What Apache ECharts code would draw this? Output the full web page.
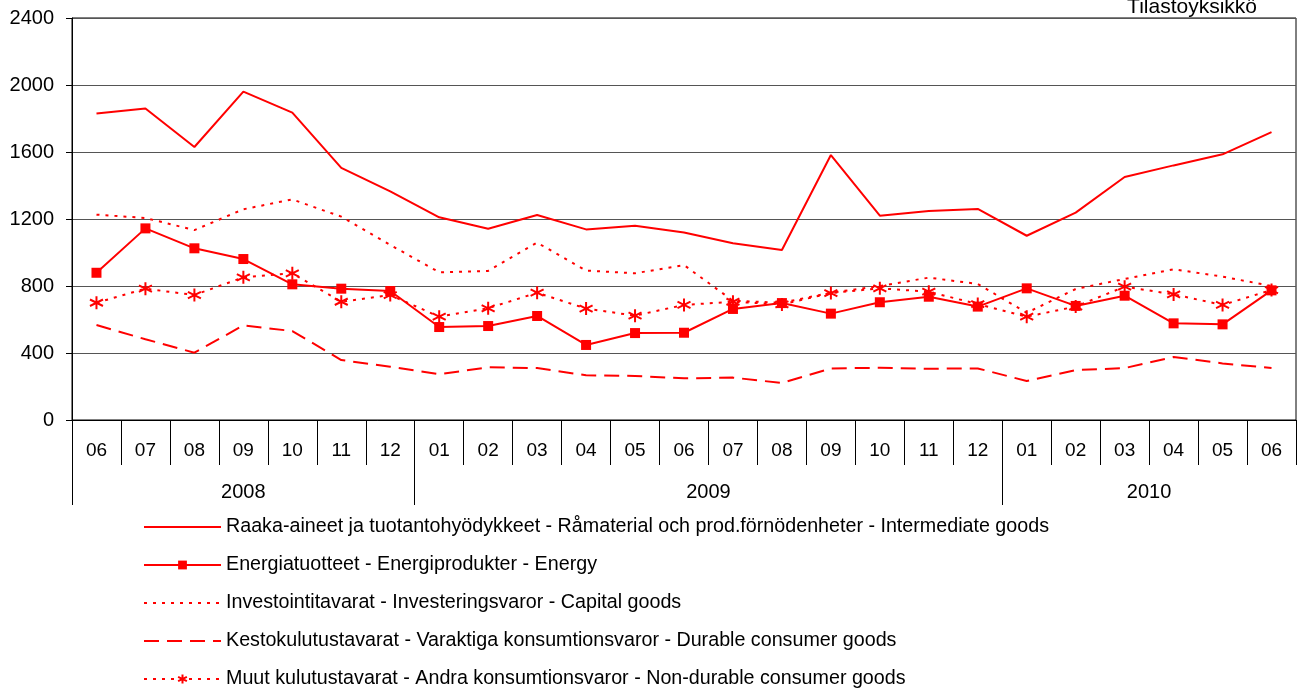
<!DOCTYPE html>
<html>
<head>
    <meta charset="utf-8"/>
    <title>Tilastoyksikkö</title>
    <script src="https://cdn.jsdelivr.net/npm/echarts@6/dist/echarts.min.js"></script>
    <style>
        html, body {margin: 0; padding: 0; background: #fff;}
        #main {width: 1298px; height: 689px;}
    </style>
</head>
<body>
<div id="main"></div>
<script>
    // kuukaudet 06/2008 - 06/2010
    let months = ['06','07','08','09','10','11','12',
        '01','02','03','04','05','06','07','08','09','10','11','12',
        '01','02','03','04','05','06'];
    let years = ['2008','2009','2010'];
    let yearCounts = [7, 12, 6];

    let raaka = [1830,1860,1630,1960,1835,1505,1365,1210,1142,1224,1138,1160,1120,1055,1015,1582,1220,1248,1260,1100,1238,1451,1520,1586,1719];
    let energia = [879,1144,1025,961,810,784,770,555,561,621,448,519,521,663,698,635,703,736,677,786,681,742,577,571,774];
    let investointi = [1226,1206,1134,1258,1317,1214,1045,882,890,1059,892,876,925,712,700,760,800,850,812,640,782,842,900,856,800];
    let kesto = [567,482,402,565,531,358,318,273,315,310,267,263,249,253,221,308,312,306,308,233,298,310,376,338,310];
    let muut = [700,784,746,852,876,706,746,617,667,760,665,623,687,706,690,758,786,766,692,617,677,796,750,687,776];

    let names = [
        'Raaka-aineet ja tuotantohyödykkeet - Råmaterial och prod.förnödenheter - Intermediate goods',
        'Energiatuotteet - Energiprodukter - Energy',
        'Investointitavarat - Investeringsvaror - Capital goods',
        'Kestokulutustavarat - Varaktiga konsumtionsvaror - Durable consumer goods',
        'Muut kulutustavarat - Andra konsumtionsvaror - Non-durable consumer goods'
    ];

    // vuosirajat ja vuosien keskikohdat
    let yearBounds = [0];
    let yearCenters = [];
    let acc = 0;
    for (let i = 0; i < yearCounts.length; i++) {
        yearCenters.push(acc + yearCounts[i] / 2);
        acc += yearCounts[i];
        if (i < yearCounts.length - 1) yearBounds.push(acc);
    }

    let font = '"Liberation Sans", Arial, sans-serif';
    let red = '#ff0000';
    let asterisk = 'path://M5 0L5 10M0.7 2.5L9.3 7.5M0.7 7.5L9.3 2.5';
    let hidden = {opacity: 0};

    let myChart = echarts.init(document.getElementById('main'));
    let option = {
        animation: false,
        textStyle: {fontFamily: font},
        title: {
            text: 'Tilastoyksikkö',
            right: 41,
            top: -3,
            padding: 0,
            textStyle: {fontSize: 21, fontWeight: 'normal', color: '#000', fontFamily: font}
        },
        grid: {
            left: 72, right: 2, top: 18, bottom: 269,
            show: true, borderColor: '#000', borderWidth: 1
        },
        legend: {
            orient: 'vertical',
            left: 143,
            top: 517,
            height: 180,
            padding: 0,
            itemWidth: 77,
            itemHeight: 11,
            itemGap: 18,
            textStyle: {fontSize: 19.7, color: '#000', fontFamily: font, lineHeight: 20},
            lineStyle: {width: 2},
            data: [
                {name: names[0], itemStyle: hidden},
                {name: names[1]},
                {name: names[2], itemStyle: hidden},
                {name: names[3], itemStyle: hidden},
                {name: names[4]}
            ]
        },
        xAxis: [
            {
                type: 'category',
                data: months,
                boundaryGap: true,
                axisLine: {lineStyle: {color: '#000', width: 1}},
                axisTick: {show: true, length: 45, interval: 0, lineStyle: {color: '#000'}},
                axisLabel: {interval: 0, margin: 21, fontSize: 19, color: '#000', fontFamily: font},
                splitLine: {show: false}
            },
            {
                type: 'value',
                position: 'bottom',
                min: 0,
                max: months.length,
                axisLine: {show: false},
                axisTick: {show: true, length: 85, customValues: yearBounds, lineStyle: {color: '#000'}},
                axisLabel: {
                    margin: 62, fontSize: 20, color: '#000', fontFamily: font,
                    customValues: yearCenters,
                    formatter: function (v) {
                        let i = yearCenters.indexOf(v);
                        return i >= 0 ? years[i] : '';
                    }
                },
                splitLine: {show: false}
            }
        ],
        yAxis: {
            type: 'value',
            min: 0,
            max: 2400,
            interval: 400,
            axisLine: {show: true, lineStyle: {color: '#000'}},
            axisTick: {show: true, length: 6, lineStyle: {color: '#000'}},
            axisLabel: {
                fontSize: 20, color: '#000', margin: 18, fontFamily: font,
                formatter: function (v) { return String(v); }
            },
            splitLine: {lineStyle: {color: '#555', width: 1}}
        },
        series: [
            {
                name: names[0], type: 'line', data: raaka,
                symbol: 'none',
                lineStyle: {color: red, width: 2},
                itemStyle: {color: red}
            },
            {
                name: names[1], type: 'line', data: energia,
                symbol: 'rect', symbolSize: 10,
                lineStyle: {color: red, width: 2},
                itemStyle: {color: red}
            },
            {
                name: names[2], type: 'line', data: investointi,
                symbol: 'none',
                lineStyle: {color: red, width: 2, type: [3, 6]},
                itemStyle: {color: red}
            },
            {
                name: names[3], type: 'line', data: kesto,
                symbol: 'none',
                lineStyle: {color: red, width: 2, type: [15, 8]},
                itemStyle: {color: red}
            },
            {
                name: names[4], type: 'line', data: muut,
                symbol: asterisk, symbolSize: 13,
                lineStyle: {color: red, width: 2, type: [3, 6]},
                itemStyle: {color: red, borderColor: red, borderWidth: 2}
            }
        ]
    };
    myChart.setOption(option);
</script>
</body>
</html>
